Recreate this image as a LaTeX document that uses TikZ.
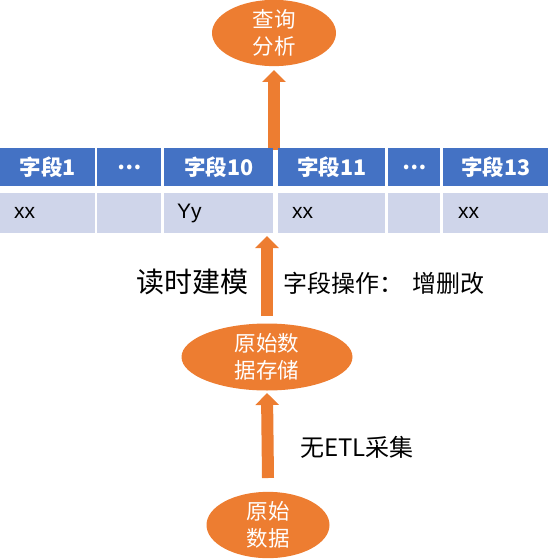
\documentclass[tikz,border=0pt]{standalone}
\usepackage{fontspec}
\setmainfont{Liberation Sans}
\newfontfamily\cjk{Noto Sans CJK SC}
\usetikzlibrary{shapes.geometric,arrows.meta}
\definecolor{myorange}{HTML}{ED7D31}
\definecolor{myblue}{HTML}{4472C4}
\definecolor{mylight}{HTML}{CFD5EA}
\tikzset{
  oval/.style={ellipse, fill=myorange, inner sep=0pt, text=white, align=center,
    font=\cjk\fontsize{21.5}{27}\selectfont},
  hcell/.style={fill=myblue, text=white, inner sep=0pt, anchor=north west,
    font=\cjk\bfseries\fontsize{21.5}{24}\selectfont},
  dcell/.style={fill=mylight, text=black, inner sep=0pt, anchor=north west},
  dtext/.style={inner sep=0pt, anchor=west, text=black, font=\fontsize{21}{24}\selectfont},
  fatarrow/.style={draw=myorange, line width=12pt, -{Triangle[width=23pt,length=12pt]}},
  lbl/.style={inner sep=0pt, text=black}
}
\begin{document}
\begin{tikzpicture}[x=1pt,y=-1pt]
\useasboundingbox (0,0) rectangle (550,559);
% ellipses
\node[oval, minimum width=124pt, minimum height=65pt] (query) at (274,33) {查询\\分析};
\node[oval, minimum width=171pt, minimum height=67pt] (store) at (267,357) {原始数\\据存储};
\node[oval, minimum width=123pt, minimum height=66pt] (raw) at (268,525) {原始\\数据};
% arrows (drawn before table)
\coordinate (a1s) at (274,150);
\draw[fatarrow] (a1s) -- (query.south |- 0,70);
\coordinate (a2e) at (267,236);
\draw[fatarrow] (store.north |- 0,316) -- (a2e);
\coordinate (a3s) at (268,478);
\draw[fatarrow] (a3s) -- (store.south |- 0,393);
% table header
\node[hcell, minimum width=95pt, minimum height=38pt] (h1) at (0,148) {字段1};
\node[hcell, minimum width=64pt, minimum height=38pt] (h2) at (97,148) {…};
\node[hcell, minimum width=109pt, minimum height=38pt] (h3) at (164,148) {字段10};
\node[hcell, minimum width=107pt, minimum height=38pt] (h4) at (278,148) {字段11};
\node[hcell, minimum width=52pt, minimum height=38pt] (h5) at (388,148) {…};
\node[hcell, minimum width=105pt, minimum height=38pt] (h6) at (443,148) {字段13};
% table data
\node[dcell, minimum width=95pt, minimum height=40pt] (d1) at (0,193) {};
\node[dcell, minimum width=64pt, minimum height=40pt] (d2) at (97,193) {};
\node[dcell, minimum width=109pt, minimum height=40pt] (d3) at (164,193) {};
\node[dcell, minimum width=107pt, minimum height=40pt] (d4) at (278,193) {};
\node[dcell, minimum width=52pt, minimum height=40pt] (d5) at (388,193) {};
\node[dcell, minimum width=105pt, minimum height=40pt] (d6) at (443,193) {};
\node[dtext] (t1) at ([xshift=14pt]d1.west) {xx};
\node[dtext] (t3) at ([xshift=13pt]d3.west) {Yy};
\node[dtext] (t4) at ([xshift=14pt]d4.west) {xx};
\node[dtext] (t6) at ([xshift=15pt]d6.west) {xx};
% labels
\node[lbl, font=\cjk\fontsize{28}{32}\selectfont] (rm) at (192,282) {读时建模};
\node[lbl, anchor=west, font=\cjk\fontsize{24}{26}\selectfont] (ops) at (283,283) {字段操作：\hspace{0.4em}增删改};
\node[lbl, anchor=west, font=\cjk\fontsize{24}{26}\selectfont] (etl) at (300,447) {无ETL采集};
\end{tikzpicture}
\end{document}
